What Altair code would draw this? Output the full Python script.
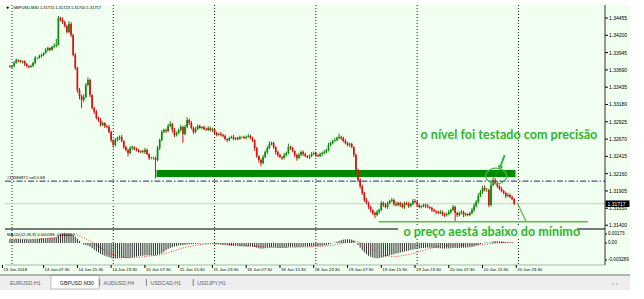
import altair as alt
import pandas as pd

# ---------------- data ----------------
symbol = "GBPUSD,M30"
title_prices = ["1.31715", "1.31723", "1.31700", "1.31717"]
bar_start = -1              # first bar index, 30-min bars from 14 Jun 00:00
first_open = 1.33740
closes = [
    1.33732, 1.33747, 1.33791, 1.33836, 1.33821, 1.33806, 1.33821, 1.33777, 1.33747, 1.33732, 1.33747,
    1.33791, 1.33865, 1.33865, 1.33895, 1.33909, 1.33939, 1.33983, 1.34012, 1.33983, 1.34027, 1.34042,
    1.34057, 1.34455, 1.34425, 1.34396, 1.34337, 1.34248, 1.34366, 1.34204,
    1.33909, 1.33718, 1.33394, 1.33305, 1.33246, 1.33290, 1.33467, 1.33541, 1.33320, 1.33128, 1.33069, 1.32981,
    1.32952, 1.32878, 1.32907, 1.32863, 1.32848, 1.32774, 1.32656, 1.32583, 1.32656, 1.32686, 1.32701, 1.32642, 1.32553, 1.32509, 1.32465,
    1.32538, 1.32553, 1.32524, 1.32509, 1.32480, 1.32494, 1.32480, 1.32509, 1.32450, 1.32391, 1.32391, 1.32391, 1.32362, 1.32538, 1.32656,
    1.32774, 1.32804, 1.32789, 1.32863, 1.32892, 1.32804, 1.32730, 1.32760, 1.32804, 1.32848, 1.32745, 1.32848, 1.32952, 1.32907, 1.32833,
    1.32774, 1.32819, 1.32863, 1.32833, 1.32848, 1.32819, 1.32804, 1.32833, 1.32804, 1.32819, 1.32760, 1.32730, 1.32745, 1.32730, 1.32715,
    1.32671, 1.32656, 1.32686, 1.32701, 1.32671, 1.32686, 1.32671, 1.32701, 1.32701, 1.32686, 1.32701, 1.32715, 1.32686, 1.32656, 1.32538,
    1.32421, 1.32362, 1.32317, 1.32406, 1.32480, 1.32538, 1.32597, 1.32612, 1.32553, 1.32480, 1.32435, 1.32406, 1.32391, 1.32435, 1.32465,
    1.32553, 1.32538, 1.32494, 1.32435, 1.32391, 1.32435, 1.32480, 1.32450, 1.32421, 1.32406, 1.32421, 1.32450, 1.32465, 1.32435, 1.32421,
    1.32450, 1.32465, 1.32480, 1.32509, 1.32583, 1.32612, 1.32642, 1.32656, 1.32686, 1.32701, 1.32686, 1.32642, 1.32612, 1.32583, 1.32597,
    1.32553, 1.32435, 1.32214, 1.32067, 1.31978, 1.31875, 1.31772, 1.31728, 1.31669, 1.31625, 1.31580, 1.31551, 1.31595, 1.31625, 1.31728,
    1.31698, 1.31669, 1.31728, 1.31757, 1.31772, 1.31713, 1.31698, 1.31728, 1.31698, 1.31669, 1.31728, 1.31713, 1.31683, 1.31713, 1.31757,
    1.31742, 1.31698, 1.31669, 1.31683, 1.31698, 1.31683, 1.31669, 1.31654, 1.31625, 1.31610, 1.31595, 1.31580, 1.31595, 1.31566, 1.31551,
    1.31566, 1.31595, 1.31625, 1.31669, 1.31580, 1.31551, 1.31580, 1.31595, 1.31551, 1.31566, 1.31551, 1.31580, 1.31625, 1.31683, 1.31742,
    1.31831, 1.31890, 1.31949, 1.31919, 1.31919, 1.31698, 1.31993, 1.32067, 1.32023, 1.31978, 1.31934, 1.31905, 1.31875, 1.31831, 1.31846,
    1.31816, 1.31787, 1.31717,
]
upper_wick_pips = [
    2, 1, 3, 2, 1, 2, 1, 1, 2, 1, 2,
    2, 3, 1, 2, 2, 1, 3, 2, 1, 2, 4,
    9, 3, 2, 4, 2, 2, 4, 3,
    2, 3, 2, 3, 2, 4, 3, 4, 2, 1, 2, 3,
    2, 3, 2, 1, 2, 3, 2, 1, 3, 2, 2, 3, 1, 2, 2,
    3, 2, 1, 2, 2, 1, 2, 3, 2, 1, 2, 2, 2, 3, 2,
    3, 2, 2, 3, 4, 2, 3, 2, 2, 3, 2, 3, 4, 2, 3,
    2, 3, 2, 2, 1, 2, 2, 3, 2, 2, 1, 2, 2, 3, 2,
    2, 1, 2, 2, 3, 1, 2, 2, 1, 2, 2, 3, 2, 2, 1,
    2, 1, 2, 3, 2, 3, 4, 2, 2, 1, 2, 2, 1, 3, 2,
    5, 2, 2, 1, 2, 3, 2, 2, 2, 1, 2, 3, 2, 2, 1,
    2, 2, 3, 2, 3, 2, 2, 3, 2, 5, 2, 2, 3, 2, 2,
    2, 1, 2, 2, 3, 2, 2, 3, 2, 2, 1, 2, 3, 2, 3,
    2, 3, 2, 2, 3, 2, 3, 2, 2, 3, 2, 2, 3, 2, 3,
    3, 2, 2, 1, 2, 2, 3, 1, 2, 2, 1, 2, 3, 2, 2,
    2, 3, 2, 3, 2, 2, 2, 3, 2, 2, 1, 2, 3, 4, 3,
    4, 3, 3, 4, 3, 2, 3, 8, 3, 2, 2, 3, 2, 2, 3, 2, 2, 1,
]
lower_wick_pips = [
    1, 2, 2, 1, 2, 1, 2, 3, 2, 2, 1,
    1, 2, 2, 1, 2, 2, 1, 2, 2, 1, 2,
    2, 1, 2, 3, 2, 2, 2, 3,
    2, 3, 4, 5, 12, 3, 2, 2, 3, 2, 3, 2,
    3, 2, 2, 3, 2, 2, 3, 4, 2, 2, 3, 2, 3, 2, 5,
    2, 3, 2, 2, 1, 2, 2, 3, 2, 3, 2, 2, 27, 2, 3,
    2, 2, 3, 2, 2, 4, 3, 2, 2, 2, 13, 2, 2, 3, 2,
    3, 2, 2, 1, 2, 2, 1, 2, 2, 3, 2, 2, 1, 2, 2,
    2, 3, 2, 1, 2, 2, 2, 1, 2, 2, 2, 1, 2, 3, 4,
    3, 4, 5, 2, 2, 3, 2, 2, 3, 4, 3, 2, 3, 2, 2,
    2, 3, 2, 3, 4, 2, 2, 3, 2, 2, 3, 2, 2, 3, 2,
    2, 3, 2, 2, 2, 2, 2, 1, 2, 2, 3, 2, 2, 2, 3,
    2, 3, 4, 3, 4, 3, 3, 2, 3, 4, 3, 5, 2, 3, 2,
    3, 2, 3, 2, 2, 3, 2, 2, 3, 2, 3, 2, 3, 2, 2,
    2, 3, 2, 2, 2, 3, 2, 2, 3, 2, 3, 2, 2, 3, 3,
    2, 2, 3, 2, 12, 3, 2, 2, 3, 2, 2, 2, 2, 3, 2,
    2, 2, 3, 2, 3, 3, 2, 2, 2, 3, 2, 2, 2, 3, 2, 2, 2, 2,
]
# MACD(12,26,9) in units of 0.00001
macd_main = [
    70, 70, 72, 75, 75, 74, 72, 70, 68, 68, 70,
    72, 76, 80, 84, 88, 92, 96, 100, 102, 104, 106,
    110, 150, 175, 185, 190, 185, 180, 170,
    150, 120, 80, 40, 5, -25, -40, -50, -70, -100, -130, -160,
    -185, -210, -230, -245, -260, -275, -290, -300, -300, -295, -290, -288, -290, -292, -290,
    -285, -278, -270, -262, -255, -250, -245, -240, -238, -238, -240, -240, -236, -225, -212,
    -200, -170, -140, -115, -95, -80, -68, -58, -50, -44, -40, -35, -30, -25, -20,
    -18, -15, -12, -10, -8, -8, -10, -10, -12, -14, -18, -22, -26, -30, -35,
    -40, -45, -50, -52, -55, -58, -60, -62, -64, -65, -66, -68, -70, -72, -80,
    -90, -100, -110, -105, -100, -92, -84, -80, -82, -86, -90, -92, -92, -90, -86,
    -75, -72, -72, -75, -78, -76, -72, -70, -70, -70, -68, -65, -62, -60, -58,
    -55, -52, -48, -40, -28, -15, -2, 10, 25, 40, 55, 65, 70, 72, 70,
    65, 50, 10, -40, -90, -140, -180, -215, -245, -265, -280, -290, -292, -290, -282,
    -272, -262, -250, -238, -225, -215, -205, -195, -185, -175, -165, -155, -145, -135, -125,
    -118, -110, -104, -100, -96, -92, -90, -90, -92, -95, -98, -100, -102, -104, -106,
    -106, -104, -100, -95, -95, -95, -94, -92, -90, -88, -86, -82, -75, -65, -50,
    -35, -20, -5, 5, 10, 5, 15, 30, 35, 35, 32, 28, 24, 20, 16, 12, 8, 4,
]
macd_signal = [
    80, 79, 78, 77, 76, 75, 74, 73, 72, 72, 71,
    71, 72, 73, 74, 76, 78, 80, 83, 86, 89, 92,
    96, 105, 115, 125, 135, 143, 150, 155,
    157, 155, 148, 135, 118, 98, 78, 58, 38, 15, -10, -38,
    -65, -92, -118, -143, -167, -190, -210, -228, -243, -255, -264, -270, -275, -279, -282,
    -284, -284, -283, -280, -276, -272, -267, -262, -257, -252, -248, -244, -240, -236, -230,
    -222, -212, -200, -188, -175, -162, -148, -135, -122, -110, -98, -87, -77, -68, -60,
    -52, -45, -39, -34, -30, -26, -23, -20, -18, -17, -17, -18, -19, -20, -22,
    -24, -26, -29, -32, -35, -38, -41, -44, -47, -50, -53, -56, -58, -60, -62,
    -65, -68, -72, -76, -80, -83, -85, -86, -87, -87, -87, -87, -87, -87, -87,
    -86, -85, -84, -83, -82, -81, -80, -79, -78, -77, -75, -73, -71, -69, -67,
    -65, -63, -61, -58, -54, -49, -43, -36, -28, -20, -11, -2, 7, 16, 24,
    30, 33, 32, 25, 14, -1, -20, -42, -66, -92, -118, -145, -170, -192, -212,
    -228, -240, -249, -255, -258, -259, -258, -255, -250, -244, -237, -229, -220, -211, -202,
    -190, -178, -166, -154, -142, -130, -118, -106, -95, -85, -76, -68, -61, -55, -50,
    -46, -43, -41, -40, -40, -40, -40, -40, -40, -40, -40, -40, -39, -38, -36,
    -34, -32, -29, -26, -22, -18, -14, -10, -6, -3, 0, 2, 4, 5, 6, 7, 7, 7,
]
macd_text = "MACD(12,26,9) 0.000186 -0.000457"
macd_tick_values = [173, 0, -329]
macd_tick_labels = ["0.00173", "0.00", "-0.003289"]

day_separators = [0, 48, 96, 144, 192, 240]
time_labels = ["13 Jun 2018", "14 Jun 07:30", "14 Jun 15:30", "14 Jun 23:30", "15 Jun 07:30",
               "15 Jun 15:30", "15 Jun 23:30", "18 Jun 07:30", "18 Jun 15:30", "18 Jun 23:30",
               "19 Jun 07:30", "19 Jun 15:30", "19 Jun 23:30", "20 Jun 07:30", "20 Jun 15:30",
               "20 Jun 23:30"]
time_label_bars = [-4.5, 15, 31, 47, 63, 79, 95, 111, 127, 143, 159, 175, 191, 207, 223, 239]
price_ticks = [1.34455, 1.34200, 1.33945, 1.33690, 1.33435, 1.33180, 1.32925, 1.32670,
               1.32415, 1.32160, 1.31905, 1.31650, 1.31400]
bid = 1.31717
order_text = "#13586871 sell 0.68"
sell_level = 1.32050
zone_bars = [68.5, 238.6]
zone_prices = [1.32111, 1.32214]
min_line_bars = [173.8, 273.0]
min_line_price = 1.31452
drop_line_bars = [239.5, 243.7]
drop_line_prices = [1.31728, 1.31452]
arrow_bars = [233.5, 231.2]
arrow_prices = [1.32435, 1.32244]
circle_bar, circle_price = 229.5, 1.32126
note_top = "o nível foi testado com precisão"
note_top_bar, note_top_price = 193.6, 1.32730
note_bottom = "o preço aestá abaixo do mínimo"
note_bottom_bar, note_bottom_price = 185.5, 1.31300
tabs = ["EURUSD,H1", "GBPUSD,M30", "AUDUSD,H4", "USDCAD,H1", "USDJPY,H1"]

# ---------------- tables ----------------
pip = 0.0001
n = len(closes)
bars = list(range(bar_start, bar_start + n))
opens = [first_open] + closes[:-1]
highs = [max(o, c) + u * pip for o, c, u in zip(opens, closes, upper_wick_pips)]
lows = [min(o, c) - l * pip for o, c, l in zip(opens, closes, lower_wick_pips)]
candles = pd.DataFrame({"t": bars, "open": opens, "close": closes, "high": highs, "low": lows,
                        "dir": ["up" if c >= o else "down" for o, c in zip(opens, closes)]})
macd = pd.DataFrame({"t": bars, "main": macd_main, "signal": macd_signal, "zero": [0] * n})
price_axis = pd.DataFrame({"p": price_ticks, "s": [f"{p:.5f}" for p in price_ticks]})

# ---------------- scales / styles ----------------
W, H = 600, 294
BG = "#f0fff0"
GREEN_NOTE = "#2fb52f"
FONT = "Liberation Sans"
xs = alt.Scale(domain=[-0.932, 278.66], nice=False, zero=False)
ys = alt.Scale(domain=[1.31400, 1.34455], range=[220.2, 13.0], nice=False, zero=False)
ms = alt.Scale(domain=[-329, 173], range=[255.1, 229.0], nice=False, zero=False)
X = lambda f: alt.X(f, type="quantitative", scale=xs, axis=None)
Y = lambda f: alt.Y(f, type="quantitative", scale=ys, axis=None)
M = lambda f: alt.Y(f, type="quantitative", scale=ms, axis=None)
one = pd.DataFrame({"a": [0]})
dir_color = alt.Color("dir:N", scale=alt.Scale(domain=["up", "down"], range=["#0b8a0b", "#d41414"]), legend=None)

layers = []
# backgrounds
layers.append(alt.Chart(one).mark_rect(color=BG).encode(
    x=alt.value(-5), x2=alt.value(625), y=alt.value(0), y2=alt.value(270)))
layers.append(alt.Chart(one).mark_rect(color="#eeeeee").encode(
    x=alt.value(-5), x2=alt.value(625), y=alt.value(270), y2=alt.value(285)))
layers.append(alt.Chart(one).mark_rect(color="#ffffff", stroke="#b0b0b0", strokeWidth=0.8).encode(
    x=alt.value(46), x2=alt.value(94), y=alt.value(270), y2=alt.value(284)))
layers.append(alt.Chart(one).mark_rule(color="#707070", strokeWidth=1).encode(
    x=alt.value(-5), x2=alt.value(625), y=alt.value(270)))

# day separators
layers.append(alt.Chart(pd.DataFrame({"t": day_separators})).mark_rule(
    color="#202020", strokeDash=[1, 2], strokeWidth=1).encode(x=X("t"), y=alt.value(0), y2=alt.value(260)))

# bid line
layers.append(alt.Chart(pd.DataFrame({"p": [bid]})).mark_rule(color="#c4d4c4", strokeWidth=1).encode(
    y=Y("p"), x=alt.value(0), x2=alt.value(600)))

# green zone
layers.append(alt.Chart(pd.DataFrame({"t0": [zone_bars[0]], "t1": [zone_bars[1]],
                                      "p0": [zone_prices[0]], "p1": [zone_prices[1]]})).mark_rect(
    color="#008a00").encode(x=X("t0"), x2="t1", y=Y("p0"), y2="p1"))

# sell order line
layers.append(alt.Chart(pd.DataFrame({"p": [sell_level]})).mark_rule(
    color="#1c2a70", strokeDash=[6, 2, 1.5, 2], strokeWidth=1).encode(
    y=Y("p"), x=alt.value(0), x2=alt.value(600)))
layers.append(alt.Chart(pd.DataFrame({"p": [sell_level], "s": [order_text]})).mark_text(
    align="left", baseline="bottom", dy=-1.5, fontSize=4.2, font=FONT, color="#000000").encode(
    y=Y("p"), x=alt.value(2), text="s:N"))

# candles
layers.append(alt.Chart(candles).mark_rule(strokeWidth=1).encode(
    x=X("t"), y=Y("low"), y2="high:Q", color=dir_color))
layers.append(alt.Chart(candles).mark_bar(size=1.7).encode(
    x=X("t"), y=Y("open"), y2="close:Q", color=dir_color))

# price axis (right)
layers.append(alt.Chart(price_axis).mark_rule(color="#000000").encode(
    y=Y("p"), x=alt.value(600), x2=alt.value(603)))
layers.append(alt.Chart(price_axis).mark_text(
    align="left", baseline="middle", fontSize=5, font=FONT, color="#000000").encode(
    y=Y("p"), x=alt.value(604), text="s:N"))

# MACD
layers.append(alt.Chart(macd).mark_rule(color="#303030", strokeWidth=1).encode(
    x=X("t"), y=M("zero"), y2="main:Q"))
layers.append(alt.Chart(macd).mark_line(color="#e03a3a", strokeDash=[1, 1.5], strokeWidth=1).encode(
    x=X("t"), y=M("signal")))
layers.append(alt.Chart(pd.DataFrame({"v": macd_tick_values, "s": macd_tick_labels})).mark_text(
    align="left", baseline="middle", fontSize=4.6, font=FONT, color="#000000").encode(
    y=M("v"), x=alt.value(603), text="s:N"))
layers.append(alt.Chart(pd.DataFrame({"v": macd_tick_values})).mark_rule(color="#000000").encode(
    y=M("v"), x=alt.value(600), x2=alt.value(602)))
layers.append(alt.Chart(pd.DataFrame({"s": [macd_text]})).mark_text(
    align="left", baseline="middle", fontSize=4.2, font=FONT, color="#000000").encode(
    x=alt.value(2), y=alt.value(230), text="s:N"))

# panel lines
layers.append(alt.Chart(one).mark_rule(color="#505050", strokeWidth=1.6).encode(
    x=alt.value(0), x2=alt.value(600), y=alt.value(224)))
layers.append(alt.Chart(one).mark_rule(color="#a8b8a8", strokeWidth=1).encode(
    x=alt.value(0), x2=alt.value(600), y=alt.value(260)))
layers.append(alt.Chart(one).mark_rule(color="#303030", strokeWidth=1).encode(
    x=alt.value(600), y=alt.value(0), y2=alt.value(260)))

# time axis
tl = pd.DataFrame({"t": time_label_bars, "s": time_labels})
layers.append(alt.Chart(tl).mark_text(align="left", baseline="middle", fontSize=4.3, font=FONT,
                                      color="#000000", dx=1).encode(x=X("t"), y=alt.value(264.5), text="s:N"))
layers.append(alt.Chart(tl).mark_rule(color="#000000").encode(x=X("t"), y=alt.value(260), y2=alt.value(263)))

# title
layers.append(alt.Chart(pd.DataFrame({"s": ["▼"]})).mark_text(
    fontSize=3.5, font="DejaVu Sans", color="#000000").encode(x=alt.value(2.5), y=alt.value(2.5), text="s:N"))
layers.append(alt.Chart(pd.DataFrame({"s": [symbol + "  " + " ".join(title_prices)]})).mark_text(
    align="left", baseline="middle", fontSize=4.0, font=FONT, color="#000000").encode(
    x=alt.value(8), y=alt.value(2.5), text="s:N"))

# bid box
box = "M -1 -0.27 L 1 -0.27 L 1 0.27 L -1 0.27 Z"
layers.append(alt.Chart(pd.DataFrame({"p": [bid]})).mark_point(
    shape=box, size=576, filled=True, color="#000000", opacity=1).encode(x=alt.value(612.5), y=Y("p")))
layers.append(alt.Chart(pd.DataFrame({"p": [bid], "s": ["1.31717"]})).mark_text(
    align="left", baseline="middle", fontSize=5, font=FONT, color="#ffffff").encode(
    x=alt.value(602.5), y=Y("p"), text="s:N"))

# annotations
layers.append(alt.Chart(pd.DataFrame({"t0": [min_line_bars[0]], "t1": [min_line_bars[1]],
                                      "p": [min_line_price]})).mark_rule(
    color="#62b84a", strokeWidth=1.5).encode(x=X("t0"), x2="t1", y=Y("p")))
layers.append(alt.Chart(pd.DataFrame({"t0": [drop_line_bars[0]], "t1": [drop_line_bars[1]],
                                      "p0": [drop_line_prices[0]], "p1": [drop_line_prices[1]]})).mark_rule(
    color="#62b84a", strokeWidth=1.3).encode(x=X("t0"), x2="t1", y=Y("p0"), y2="p1"))
layers.append(alt.Chart(pd.DataFrame({"t0": [arrow_bars[0]], "t1": [arrow_bars[1]],
                                      "p0": [arrow_prices[0]], "p1": [arrow_prices[1]]})).mark_rule(
    color="#3cb03c", strokeWidth=2).encode(x=X("t0"), x2="t1", y=Y("p0"), y2="p1"))
layers.append(alt.Chart(pd.DataFrame({"t": [arrow_bars[1]], "p": [arrow_prices[1]]})).mark_point(
    shape="triangle-down", filled=True, size=30, angle=21, color="#3cb03c", opacity=1).encode(
    x=X("t"), y=Y("p")))
ellipse = "M -1 0 A 1 0.75 0 1 0 1 0 A 1 0.75 0 1 0 -1 0 Z"
layers.append(alt.Chart(pd.DataFrame({"t": [circle_bar], "p": [circle_price]})).mark_point(
    shape=ellipse, size=441, filled=False, color="#4cb84c", strokeWidth=1.2, opacity=1).encode(
    x=X("t"), y=Y("p")))
layers.append(alt.Chart(pd.DataFrame({"t": [note_top_bar], "p": [note_top_price], "s": [note_top]})).mark_text(
    align="left", baseline="middle", fontSize=12.6, font="Lato", fontWeight="bold", color=GREEN_NOTE).encode(
    x=X("t"), y=Y("p"), text="s:N"))
layers.append(alt.Chart(one).mark_rect(color=BG).encode(
    x=alt.value(393), x2=alt.value(572), y=alt.value(220), y2=alt.value(234)))
layers.append(alt.Chart(pd.DataFrame({"t": [note_bottom_bar], "p": [note_bottom_price], "s": [note_bottom]})).mark_text(
    align="left", baseline="middle", fontSize=12.6, font="Lato", fontWeight="bold", color=GREEN_NOTE).encode(
    x=X("t"), y=Y("p"), text="s:N"))

# tabs
for i, name in enumerate(tabs):
    layers.append(alt.Chart(pd.DataFrame({"s": [name]})).mark_text(
        align="left", baseline="middle", fontSize=5.3, font=FONT,
        color="#202020" if i == 1 else "#606060").encode(
        x=alt.value(5 + i * 46.8 + (3 if i == 1 else 0)), y=alt.value(277.5), text="s:N"))
    if i > 1:
        layers.append(alt.Chart(one).mark_rule(color="#808080").encode(
            x=alt.value(1 + i * 46.8), y=alt.value(274), y2=alt.value(281)))
layers.append(alt.Chart(pd.DataFrame({"s": ["‹   ›"]})).mark_text(
    align="left", baseline="middle", fontSize=6, font=FONT, color="#808080").encode(
    x=alt.value(607), y=alt.value(277.5), text="s:N"))

chart = alt.layer(*layers).properties(
    width=W, height=H,
    padding={"left": 5, "top": 5, "right": 39, "bottom": 0},
    autosize=alt.AutoSizeParams(type="none"),
    background="#ffffff",
).resolve_scale(y="independent").configure_view(stroke=None)

chart.save("out.html", embed_options={"renderer": "svg", "actions": False})
